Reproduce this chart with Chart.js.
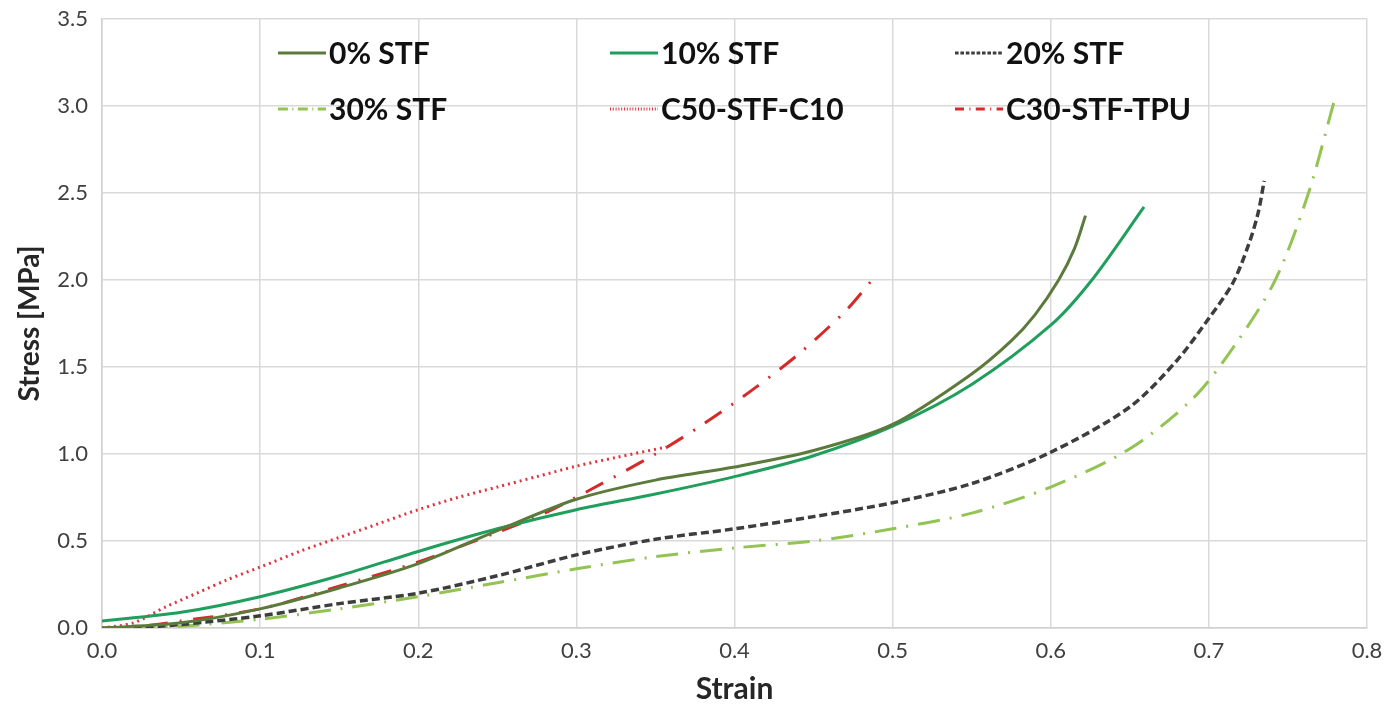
<!DOCTYPE html>
<html>
<head>
<meta charset="utf-8">
<script src="https://cdn.jsdelivr.net/npm/chart.js@4"></script>
<style>
  body { margin: 0; background: #fff; }
  #wrap { width: 1386px; height: 704px; }
</style>
</head>
<body>
<div id="wrap"><canvas id="chart" width="1386" height="704"></canvas></div>
<script>
// series labels
const seriesLabels = ['0% STF', '10% STF', '20% STF', '30% STF', 'C50-STF-C10', 'C30-STF-TPU'];

// strain / stress readings per series
const strain0 = [0.0, 0.05, 0.1, 0.15, 0.2, 0.25, 0.3, 0.35, 0.4, 0.45, 0.5, 0.55, 0.575, 0.59, 0.605, 0.615, 0.622];
const stress0 = [0.0, 0.03, 0.11, 0.23, 0.37, 0.56, 0.74, 0.85, 0.925, 1.02, 1.17, 1.46, 1.65, 1.8, 2.0, 2.18, 2.37];

const strain10 = [0.0, 0.05, 0.1, 0.15, 0.2, 0.25, 0.3, 0.35, 0.4, 0.45, 0.5, 0.55, 0.6, 0.626, 0.659];
const stress10 = [0.04, 0.09, 0.18, 0.3, 0.44, 0.57, 0.68, 0.77, 0.87, 0.99, 1.16, 1.40, 1.74, 2.0, 2.42];

const strain20 = [0.02, 0.05, 0.1, 0.15, 0.2, 0.25, 0.3, 0.35, 0.4, 0.45, 0.5, 0.55, 0.6, 0.65, 0.68, 0.7, 0.715, 0.725, 0.731, 0.735];
const stress20 = [0.0, 0.02, 0.07, 0.14, 0.2, 0.3, 0.42, 0.51, 0.57, 0.64, 0.72, 0.83, 1.01, 1.27, 1.54, 1.78, 1.98, 2.2, 2.38, 2.57];

const strain30 = [0.02, 0.05, 0.1, 0.15, 0.2, 0.25, 0.3, 0.35, 0.4, 0.45, 0.5, 0.55, 0.6, 0.65, 0.69, 0.716, 0.742, 0.763, 0.779];
const stress30 = [0.0, 0.01, 0.05, 0.11, 0.18, 0.26, 0.34, 0.41, 0.46, 0.5, 0.57, 0.66, 0.81, 1.03, 1.32, 1.62, 2.0, 2.5, 3.02];

const strainC50 = [0.0, 0.02, 0.04, 0.06, 0.08, 0.1, 0.125, 0.15, 0.175, 0.2, 0.225, 0.25, 0.275, 0.3, 0.325, 0.357];
const stressC50 = [0.0, 0.03, 0.12, 0.2, 0.28, 0.35, 0.44, 0.52, 0.6, 0.68, 0.75, 0.81, 0.87, 0.93, 0.98, 1.04];

const strainC30 = [0.0, 0.02, 0.05, 0.1, 0.15, 0.2, 0.25, 0.28, 0.31, 0.35, 0.38, 0.41, 0.44, 0.47, 0.487];
const stressC30 = [0.0, 0.005, 0.04, 0.11, 0.24, 0.38, 0.55, 0.66, 0.8, 1.0, 1.17, 1.36, 1.57, 1.82, 2.0];

const xTicks = [0.0, 0.1, 0.2, 0.3, 0.4, 0.5, 0.6, 0.7, 0.8];
const yTicks = [0.0, 0.5, 1.0, 1.5, 2.0, 2.5, 3.0, 3.5];

function toPoints(xs, ys) {
    let pts = [];
    for (let i = 0; i < xs.length; i++) {
        pts.push({ x: xs[i], y: ys[i] });
    }
    return pts;
}

const styles = [
    { color: '#5b7a3c', dash: [], width: 3 },
    { color: '#1f9e5c', dash: [], width: 3 },
    { color: '#3d3d3d', dash: [8, 4], width: 3.5 },
    { color: '#93c353', dash: [22, 10, 2, 10], width: 3 },
    { color: '#dd3540', dash: [2, 4], width: 3 },
    { color: '#d42a2a', dash: [20, 12, 2, 12], width: 3 }
];

const allData = [
    toPoints(strain0, stress0),
    toPoints(strain10, stress10),
    toPoints(strain20, stress20),
    toPoints(strain30, stress30),
    toPoints(strainC50, stressC50),
    toPoints(strainC30, stressC30)
];

const datasets = seriesLabels.map((label, i) => ({
    label: label,
    data: allData[i],
    borderColor: styles[i].color,
    backgroundColor: styles[i].color,
    borderDash: styles[i].dash,
    borderWidth: styles[i].width,
    pointRadius: 0,
    fill: false,
    tension: 0.3
}));

// legend laid out like the original: 3 columns x 2 rows inside the plot
const gridLegend = {
    id: 'gridLegend',
    afterDraw(chart) {
        const ctx = chart.ctx;
        const colX = [278, 610, 955];
        const rowY = [53, 109];
        ctx.save();
        chart.data.datasets.forEach((ds, i) => {
            const x = colX[i % 3];
            const y = rowY[Math.floor(i / 3)];
            ctx.strokeStyle = ds.borderColor;
            ctx.lineWidth = 3;
            ctx.setLineDash(ds.borderDash.length ? ds.borderDash.map(v => Math.max(1, v * 0.45)) : []);
            ctx.beginPath();
            ctx.moveTo(x, y);
            ctx.lineTo(x + 48, y);
            ctx.stroke();
            ctx.setLineDash([]);
            ctx.fillStyle = '#111';
            ctx.font = 'bold 30px Lato';
            ctx.textBaseline = 'middle';
            ctx.textAlign = 'left';
            ctx.fillText(ds.label, x + 51, y + 1);
        });
        ctx.restore();
    }
};

new Chart(document.getElementById('chart'), {
    type: 'line',
    data: { datasets: datasets },
    options: {
        responsive: false,
        animation: false,
        layout: { padding: { top: 19, right: 19, left: 0, bottom: 0 } },
        plugins: {
            legend: { display: false },
            tooltip: { enabled: false }
        },
        scales: {
            x: {
                type: 'linear',
                min: 0,
                max: 0.8,
                afterBuildTicks: (axis) => { axis.ticks = xTicks.map(v => ({ value: v })); },
                afterFit: (axis) => {
                    axis.height = 76;
                    axis.paddingLeft = 0;
                    axis.paddingRight = 0;
                },
                ticks: {
                    color: '#404040',
                    font: { family: 'Lato', size: 22 },
                    padding: 10,
                    callback: (v) => v.toFixed(1)
                },
                grid: { color: '#d9d9d9', lineWidth: 1.5, drawTicks: false },
                border: { color: '#d0d0d0', width: 1.5 },
                title: {
                    display: true,
                    text: 'Strain',
                    color: '#262626',
                    font: { family: 'Lato', size: 30, weight: 'bold', lineHeight: 1 },
                    padding: { top: 0, bottom: 0 }
                }
            },
            y: {
                type: 'linear',
                min: 0,
                max: 3.5,
                afterBuildTicks: (axis) => { axis.ticks = yTicks.map(v => ({ value: v })); },
                afterFit: (axis) => {
                    axis.width = 102;
                    axis.paddingTop = 0;
                    axis.paddingBottom = 0;
                },
                ticks: {
                    color: '#404040',
                    font: { family: 'Lato', size: 22 },
                    padding: 14,
                    callback: (v) => v.toFixed(1)
                },
                grid: { color: '#d9d9d9', lineWidth: 1.5, drawTicks: false },
                border: { color: '#d0d0d0', width: 1.5 },
                title: {
                    display: true,
                    text: 'Stress [MPa]',
                    color: '#262626',
                    font: { family: 'Lato', size: 28, weight: 'bold', lineHeight: 1 },
                    padding: { top: 16, bottom: 0 }
                }
            }
        }
    },
    plugins: [gridLegend]
});
</script>
</body>
</html>
